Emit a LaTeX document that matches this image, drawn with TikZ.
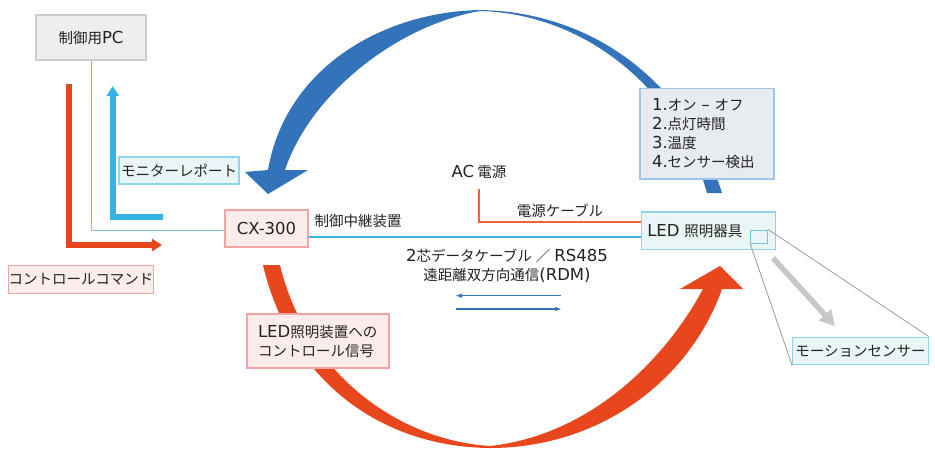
\documentclass[tikz,border=0pt]{standalone}
\usepackage{fontspec}
\usepackage{tikz}
\usetikzlibrary{
  arrows.meta,
  calc,
  positioning
}
\newfontfamily\jpfont{Noto Sans CJK JP}
\newfontfamily\latfont{DejaVu Sans}
\newcommand\lattxt[1]{{\latfont\fontsize{16.5}{19}\selectfont #1}}
\definecolor{txtdark}{HTML}{222222}
\definecolor{arcblue}{HTML}{3273B9}
\definecolor{arcred}{HTML}{E8471E}
\definecolor{repcyan}{HTML}{35B3E6}
\definecolor{pinkfill}{HTML}{FDECEC}
\definecolor{pinkline}{HTML}{F2A3A3}
\definecolor{cyanfill}{HTML}{EAF5F5}
\definecolor{cyanline}{HTML}{90D5EE}
\definecolor{grayfill}{HTML}{EEEEEE}
\definecolor{grayline}{HTML}{CCCCCC}
\definecolor{infofill}{HTML}{E8ECF0}
\definecolor{infoline}{HTML}{9EC5EC}
\tikzset{
  >=stealth,
  jptext/.style={font=\jpfont\fontsize{14.5}{19}\selectfont, text=txtdark},
  box/.style={draw, line width=1.2pt, inner sep=0pt, align=center, jptext},
  pinkbox/.style={box, fill=pinkfill, draw=pinkline},
  cyanbox/.style={box, fill=cyanfill, draw=cyanline},
  graybox/.style={box, fill=grayfill, draw=grayline},
  infobox/.style={box, fill=infofill, draw=infoline},
  plain/.style={jptext, inner sep=0pt},
  fatarrow/.style={line width=6pt, line cap=butt, line join=miter, -{Triangle[length=10pt,width=12pt]}},
  pcline/.style={draw=cyanline!90!black, line width=1pt},
  dataline/.style={draw=repcyan, line width=1.2pt},
  powerline/.style={draw=arcred!85, line width=1.2pt},
  rdmarrow/.style={draw=arcblue, line width=1.2pt, -{Latex[length=7pt,width=4.5pt]}},
  zoomline/.style={draw=black!40, line width=0.8pt},
  grayarrow/.style={draw=black!22, line width=5.5pt, line cap=butt, -{Triangle[length=15pt,width=16pt]}}
}
\begin{document}
\begin{tikzpicture}[x=1pt, y=-1pt]
	\useasboundingbox (0,0) rectangle (935,448);

	% blue arc: report coming back from the fixture
	\fill[arcblue] (268,170) -- (245,172) -- (268,194) -- (308,170) -- (285,170)
		.. controls (310,95) and (395,26) .. (480,11)
		.. controls (590,14) and (680,95) .. (707,193)
		-- (722,193)
		.. controls (690,90) and (600,12) .. (480,10)
		.. controls (380,12) and (285,70) .. (268,170) -- cycle;

	% red arc: control signal going out to the fixture
	\fill[arcred] (263,265) .. controls (290,380) and (380,447) .. (490,448)
		.. controls (600,448) and (690,380) .. (722,289)
		-- (743,289) -- (720,266) -- (680,289) -- (703,289)
		.. controls (665,360) and (590,435) .. (490,446)
		.. controls (395,440) and (305,370) .. (280,265) -- cycle;

	% boxes
	\node[graybox, minimum width=110pt, minimum height=45pt] (pc) at (91,37.5) {制御用\lattxt{PC}};
	\node[cyanbox, minimum width=120pt, minimum height=27pt] (monitor) at (179,170.5) {モニターレポート};
	\node[pinkbox, minimum width=83pt, minimum height=37pt] (cx) at (266.5,228.5) {\lattxt{CX-300}};
	\node[pinkbox, minimum width=143pt, minimum height=27.6pt] (command) at (81,279.5) {コントロールコマンド};
	\node[pinkbox, text width=120pt, inner xsep=11pt, minimum height=54pt, align=left] (signal) at (318,341) {\lattxt{LED}照明装置への\\コントロール信号};
	\node[infobox, text width=110pt, inner xsep=12pt, minimum height=90.7pt, align=left] (info) at (707,133.7) {\lattxt{1.}オン \lattxt{–} オフ\\\lattxt{2.}点灯時間\\\lattxt{3.}温度\\\lattxt{4.}センサー検出};
	\node[cyanbox, text width=122pt, inner xsep=6pt, minimum height=37.3pt, align=left] (led) at (708.3,230.7) {\lattxt{LED} 照明器具};
	\node[cyanbox, minimum width=135.6pt, minimum height=27.4pt] (sensor) at (860.5,351) {モーションセンサー};

	% labels
	\node[plain] (relay) at (358,221.5) {制御中継装置};
	\node[plain] (ac) at (479,172) {\lattxt{AC} 電源};
	\node[plain] (cable) at (560,211) {電源ケーブル};
	\node[plain, align=center] (rs) at (507,266) {\lattxt{2}芯データケーブル\hspace{4pt}／\hspace{4pt}\lattxt{RS485}\\遠距離双方向通信\lattxt{(RDM)}};

	% cables
	\draw[pcline] (pc.south) |- (cx.west |- 0,230);
	\draw[dataline] (cx.east |- 0,237) -- (led.west |- 0,237);
	\draw[powerline] (ac.south |- 0,189) |- (led.west |- 0,222);

	% command / report arrows
	\coordinate (cmdTop) at (69,84);
	\coordinate (cmdEnd) at (162,245);
	\coordinate (repStart) at (163,216.5);
	\coordinate (repTop) at (112.7,86);
	\draw[fatarrow, draw=arcred] (cmdTop) |- (cmdEnd);
	\draw[fatarrow, draw=repcyan] (repStart) -| (repTop);

	% two way RDM arrows
	\coordinate (rdmL) at (455,295.7);
	\coordinate (rdmR) at (561,295.7);
	\draw[rdmarrow] (rdmR) -- (rdmL);
	\draw[rdmarrow] ($(rdmL)+(1,13.3)$) -- ($(rdmR)+(1,13.3)$);

	% sensor detail
	\node[draw=cyanline!80!teal, fill=cyanfill, line width=1pt, inner sep=0pt, minimum width=17pt, minimum height=13.3pt] (spot) at (759.2,236.7) {};
	\draw[zoomline] (spot.north east) -- (sensor.north east);
	\draw[zoomline] (spot.south west) -- (sensor.south west);
	\coordinate (senseA) at (773,258);
	\coordinate (senseB) at (835,326);
	\draw[grayarrow] (senseA) -- (senseB);
\end{tikzpicture}
\end{document}
